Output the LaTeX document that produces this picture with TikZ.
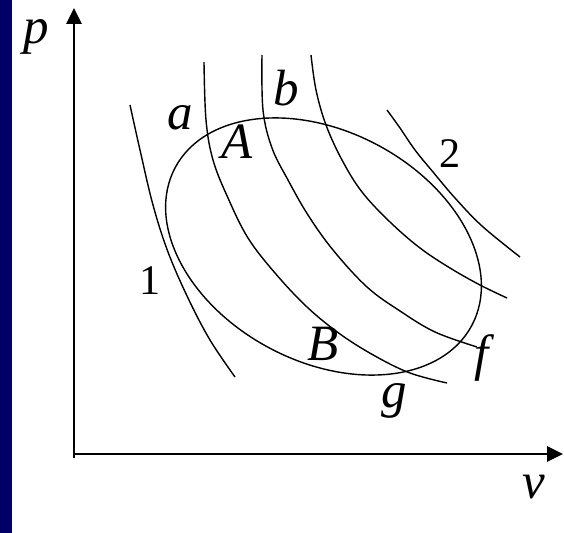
\documentclass[tikz,border=0pt]{standalone}
\usepackage{fontspec}
\setmainfont{Liberation Serif}
\usepackage{xcolor}
\definecolor{slidenavy}{HTML}{000066}
\definecolor{inkblack}{HTML}{000000}
\usetikzlibrary{arrows.meta, positioning}
\tikzset{
  pvaxis/.style ={line width=1.5pt, color=inkblack, -{Triangle[length=0.32cm, width=0.3cm]}},
  pvcurve/.style={line width=0.8pt, color=inkblack},
  pvlbl/.style  ={font=\fontsize{29}{29}\selectfont\itshape, text=inkblack, inner sep=0pt},
  pvnum/.style  ={font=\fontsize{24}{24}\selectfont, text=inkblack, inner sep=0pt},
}
\begin{document}
\begin{tikzpicture}[x=0.02cm, y=-0.02cm]
  \useasboundingbox (0,0) rectangle (564,533);
  \fill[slidenavy] (0,0) rectangle (12,533);
  % axes
  \coordinate (org) at (74,458);
  \coordinate (ptip) at (74,8);
  \coordinate (vorg) at (74,454);
  \coordinate (vtip) at (563,454);
  \draw[pvaxis] (org) -- (ptip);
  \draw[pvaxis] (vorg) -- (vtip);
  \node[pvlbl] (lp) at (36,37) {p};
  \node[pvlbl] (lv) at (534,487) {v};
  % cycle
  \coordinate (cyc) at (323.5,246.5);
  \draw[pvcurve] (cyc) ellipse [x radius=168, y radius=115, rotate=-28];
  % curves
  \draw[pvcurve] plot[smooth, tension=0.6] coordinates {(130,105) (140,150) (153,205) (168,252) (188,298) (210,340) (235,377)};
  \draw[pvcurve] plot[smooth, tension=0.6] coordinates {(204,62) (206,120) (213,160) (228,198) (248,238) (275,273) (307,307) (340,334) (375,356) (410,373) (447,383)};
  \draw[pvcurve] plot[smooth, tension=0.6] coordinates {(262,55) (263,110) (272,148) (288,180) (308,215) (333,250) (367,287) (400,311) (435,332) (477,347)};
  \draw[pvcurve] plot[smooth, tension=0.6] coordinates {(311,55) (316,90) (326,125) (342,160) (362,192) (390,222) (420,248) (450,268) (480,285) (507,298)};
  \draw[pvcurve] plot[smooth, tension=0.6] coordinates {(387,110) (400,128) (415,150) (433,172) (455,198) (482,226) (520,257)};
  % labels
  \node[pvlbl] (la) at (180,118) {a};
  \node[pvlbl] (lb) at (286,88) {b};
  \node[pvlbl] (lA) at (237,142) {A};
  \node[pvlbl] (lB) at (323,344) {B};
  \node[pvlbl] (lf) at (482,358) {f};
  \node[pvlbl] (lg) at (394,401) {g};
  \node[pvnum] (l1) at (150,281) {1};
  \node[pvnum] (l2) at (450,154) {2};
\end{tikzpicture}
\end{document}
